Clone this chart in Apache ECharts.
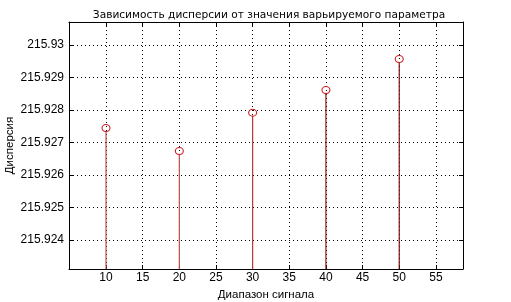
<!DOCTYPE html>
<html><head><meta charset="utf-8">
<script src="https://cdn.jsdelivr.net/npm/echarts@6/dist/echarts.min.js"></script>
<style>html,body{margin:0;padding:0;background:#fff}#c{width:511px;height:302px}</style>
</head><body><div id="c"></div>
<script>
var titleText = 'Зависимость дисперсии от значения варьируемого параметра';
var xName = 'Диапазон сигнала';
var yName = 'Дисперсия';
var xValues = [10, 20, 30, 40, 50];
var yValues = [215.927446, 215.926738, 215.927917, 215.928615, 215.929569];
var stemColors = ['#c0504d', '#c0504d', '#b83a3a', '#8b1a1a', '#7a1010'];
var xTicks = [10, 15, 20, 25, 30, 35, 40, 45, 50, 55];
var yTicks = [215.924, 215.925, 215.926, 215.927, 215.928, 215.929, 215.93];
var xMin = 4.95, xMax = 58.7, yMin = 215.92311, yMax = 215.93071;

var chart = echarts.init(document.getElementById('c'));
var font = 'Liberation Sans';
var grid = {left: 69, right: 48, top: 22, bottom: 33, containLabel: false, outerBoundsMode: 'none'};
chart.setOption({
  animation: false,
  title: {text: titleText, left: 264, textAlign: 'center', top: 5,
    textStyle: {fontFamily: 'DejaVu Sans', fontSize: 10.6, fontWeight: 'normal', color: '#000'}},
  grid: grid,
  xAxis: [{
    type: 'value', min: xMin, max: xMax,
    name: xName, nameLocation: 'middle', nameGap: 17,
    nameTextStyle: {fontFamily: font, fontSize: 11.5, color: '#000'},
    axisLine: {show: true, onZero: false, lineStyle: {color: '#000', width: 1}},
    axisTick: {show: true, inside: true, length: 4, lineStyle: {color: '#000'},
      customValues: xTicks},
    axisLabel: {fontFamily: font, fontSize: 12, color: '#000', margin: 3, customValues: xTicks},
    splitLine: {show: true, lineStyle: {color: '#000', type: [1, 3], width: 1}},
    interval: 5
  }, {
    type: 'value', position: 'top', min: xMin, max: xMax,
    axisLine: {show: true, onZero: false, lineStyle: {color: '#000'}},
    axisTick: {show: true, inside: true, length: 4, customValues: xTicks},
    axisLabel: {show: false}, splitLine: {show: false}
  }],
  yAxis: [{
    type: 'value', min: yMin, max: yMax,
    name: yName, nameLocation: 'middle', nameGap: 53, nameRotate: 90, nameMoveOverlap: false,
    nameTextStyle: {fontFamily: font, fontSize: 11.5, color: '#000'},
    axisLine: {show: true, onZero: false, lineStyle: {color: '#000'}},
    axisTick: {show: true, inside: true, length: 4, customValues: yTicks},
    axisLabel: {fontFamily: font, fontSize: 12, color: '#000', margin: 5, customValues: yTicks,
      formatter: function (v) { return String(+v.toFixed(6)); }},
    splitLine: {show: true, lineStyle: {color: '#000', type: [1, 3], width: 1}}
  }, {
    type: 'value', position: 'right', min: yMin, max: yMax,
    axisLine: {show: true, onZero: false, lineStyle: {color: '#000'}},
    axisTick: {show: true, inside: true, length: 4, customValues: yTicks},
    axisLabel: {show: false}, splitLine: {show: false}
  }],
  series: [{
    type: 'custom',
    data: xValues.map(function (x, i) { return [x, yValues[i], i]; }),
    renderItem: function (params, api) {
      var top = api.coord([api.value(0), api.value(1)]);
      var bot = api.coord([api.value(0), yMin]);
      return {type: 'line', shape: {x1: top[0], y1: top[1] + 3, x2: bot[0], y2: bot[1]},
        style: {stroke: stemColors[api.value(2)], lineWidth: 1.2}};
    },
    z: 3
  }, {
    type: 'scatter',
    data: xValues.map(function (x, i) { return [x, yValues[i]]; }),
    symbol: 'circle', symbolSize: [8, 7],
    itemStyle: {color: 'rgba(0,0,0,0)', borderColor: '#cc1a1a', borderWidth: 1, opacity: 1},
    z: 4
  }]
});
</script></body></html>
